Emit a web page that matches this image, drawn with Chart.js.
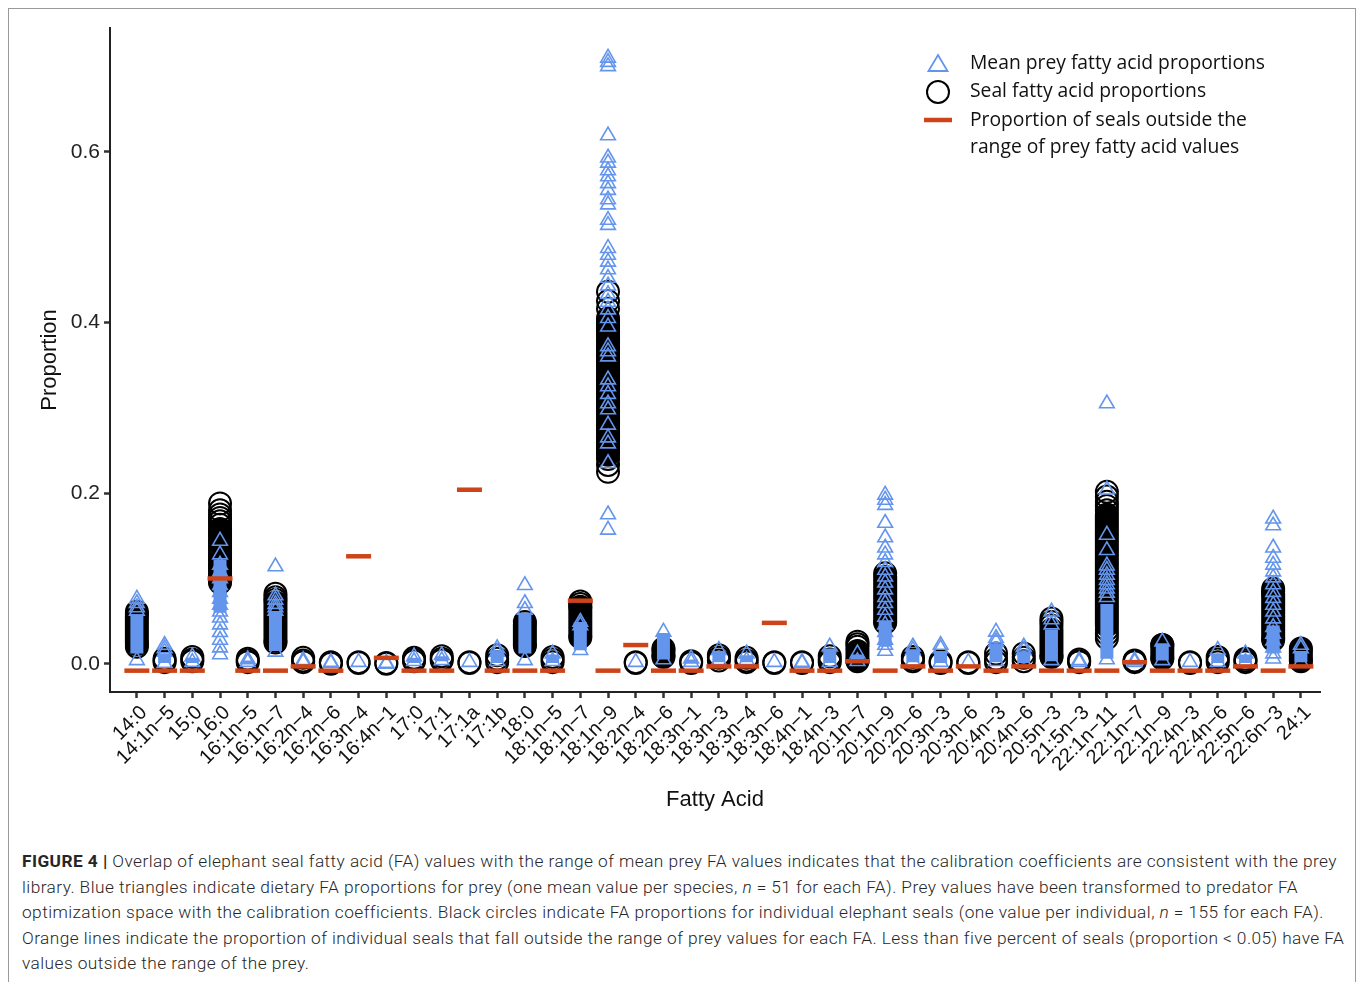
<!DOCTYPE html>
<html>
<head>
<meta charset="utf-8">
<script src="https://cdn.jsdelivr.net/npm/chart.js@4.4.1/dist/chart.umd.min.js"></script>
<style>
  html, body { margin: 0; padding: 0; background: #fff; }
  body { width: 1358px; height: 982px; position: relative; overflow: hidden; }
  #frame { position: absolute; left: 8px; top: 8px; width: 1346px; height: 1000px; border: 1px solid #9a9a9a; }
  #chart { position: absolute; left: 0; top: 0; }
  #caption {
    position: absolute; left: 22px; top: 849px;
    font-family: Roboto, "Liberation Sans", sans-serif; font-weight: 300;
    font-size: 17.3px; line-height: 25.5px; color: #262626; white-space: nowrap;
  }
  #caption span { display: block; }
  #caption b { font-weight: 700; }
</style>
</head>
<body>
<div id="frame"></div>
<canvas id="chart" width="1358" height="830"></canvas>
<div id="caption">
  <span id="cap1"><b>FIGURE 4 |</b> Overlap of elephant seal fatty acid (FA) values with the range of mean prey FA values indicates that the calibration coefficients are consistent with the prey</span>
  <span>library. Blue triangles indicate dietary FA proportions for prey (one mean value per species, <i>n</i> = 51 for each FA). Prey values have been transformed to predator FA</span>
  <span>optimization space with the calibration coefficients. Black circles indicate FA proportions for individual elephant seals (one value per individual, <i>n</i> = 155 for each FA).</span>
  <span>Orange lines indicate the proportion of individual seals that fall outside the range of prey values for each FA. Less than five percent of seals (proportion &lt; 0.05) have FA</span>
  <span>values outside the range of the prey.</span>
</div>
<script>
// fatty acids along the x axis
const fattyAcids = [
  '14:0', '14:1n−5', '15:0', '16:0', '16:1n−5', '16:1n−7', '16:2n−4', '16:2n−6', '16:3n−4', '16:4n−1',
  '17:0', '17:1', '17:1a', '17:1b', '18:0', '18:1n−5', '18:1n−7', '18:1n−9', '18:2n−4', '18:2n−6',
  '18:3n−1', '18:3n−3', '18:3n−4', '18:3n−6', '18:4n−1', '18:4n−3', '20:1n−7', '20:1n−9', '20:2n−6', '20:3n−3',
  '20:3n−6', '20:4n−3', '20:4n−6', '20:5n−3', '21:5n−3', '22:1n−11', '22:1n−7', '22:1n−9', '22:4n−3', '22:4n−6',
  '22:5n−6', '22:6n−3', '24:1'
];
const yTicks = [0, 0.2, 0.4, 0.6];

// mean prey values that stand apart (triangles), one list per FA
const preyValues = [
  [0.076, 0.071, 0.066, 0.062, 0.004], [0.022, 0.018, 0.014, 0.001], [0.0085, 0.002],
  [0.144, 0.128, 0.116, 0.108, 0.100, 0.092, 0.084, 0.076, 0.069, 0.061, 0.054, 0.046, 0.037, 0.028, 0.019, 0.011],
  [0.005, 0.002], [0.114, 0.080, 0.075, 0.070, 0.066, 0.062, 0.014], [0.004, 0.002], [0.002, 0.001], [0.002], [0.001, 0.000],
  [0.0085, 0.003], [0.010, 0.004], [0.002], [0.018, 0.014, 0.003], [0.092, 0.071, 0.063, 0.004], [0.012, 0.003],
  [0.049, 0.045, 0.016],
  [0.710, 0.705, 0.700, 0.619, 0.593, 0.587, 0.578, 0.571, 0.563, 0.555, 0.544, 0.538, 0.520, 0.514, 0.487, 0.479,
   0.471, 0.462, 0.452, 0.443, 0.433, 0.424, 0.415, 0.405, 0.395, 0.372, 0.366, 0.360, 0.333, 0.325, 0.316, 0.305,
   0.298, 0.280, 0.265, 0.258, 0.235, 0.175, 0.157],
  [0.002], [0.0375, 0.005], [0.006, 0.002], [0.016, 0.004], [0.012, 0.004], [0.002], [0.002, 0.001], [0.020, 0.002],
  [0.012, 0.003],
  [0.198, 0.192, 0.186, 0.165, 0.148, 0.136, 0.128, 0.119, 0.110, 0.102, 0.095, 0.087, 0.078, 0.071, 0.063, 0.055,
   0.046, 0.037, 0.028, 0.022, 0.015],
  [0.020, 0.016, 0.003], [0.022, 0.018, 0.002], [0.002], [0.0375, 0.030, 0.026, 0.003], [0.020, 0.016, 0.002],
  [0.061, 0.052, 0.046, 0.004], [0.004, 0.002],
  [0.305, 0.204, 0.151, 0.133, 0.115, 0.110, 0.104, 0.098, 0.093, 0.088, 0.083, 0.078, 0.005],
  [0.004, 0.002], [0.026, 0.004], [0.002], [0.016, 0.002], [0.012, 0.002],
  [0.170, 0.162, 0.136, 0.124, 0.116, 0.108, 0.101, 0.093, 0.084, 0.077, 0.069, 0.061, 0.053, 0.043, 0.035, 0.027,
   0.019, 0.012, 0.006],
  [0.022, 0.018, 0.002]
];
// range where prey triangles pile up into a solid band
const preyDense = [
  [0.012, 0.058], [0.001, 0.012], [0.001, 0.007], [0.060, 0.122], [0.001, 0.004], [0.015, 0.062], null, null, null, null,
  [0.001, 0.007], [0.003, 0.009], null, [0.001, 0.016], [0.012, 0.060], [0.001, 0.011], [0.016, 0.049], null, null, [0.005, 0.036],
  [0.001, 0.005], [0.002, 0.015], [0.002, 0.010], null, null, [0.001, 0.018], [0.002, 0.011], [0.020, 0.050], [0.002, 0.017], [0.001, 0.015],
  null, [0.002, 0.024], [0.001, 0.014], [0.003, 0.040], null, [0.006, 0.070], null, [0.004, 0.024], null, [0.001, 0.012],
  [0.001, 0.011], [0.012, 0.045], [0.002, 0.015]
];

// individual seal values that stand apart (circles)
const sealValues = [
  [0.061, 0.058, 0.023, 0.020], [0.002, 0.004, 0.006], [0.003, 0.005, 0.008],
  [0.188, 0.180, 0.175, 0.171, 0.167, 0.163, 0.095], [0.002, 0.004, 0.006], [0.082, 0.078, 0.075, 0.025],
  [0.002, 0.004, 0.007], [0.000, 0.001, 0.002], [0.001, 0.002], [0.000, 0.001],
  [0.003, 0.005, 0.007], [0.004, 0.006, 0.009], [0.001, 0.002], [0.002, 0.006, 0.010], [0.049, 0.021],
  [0.002, 0.005, 0.008], [0.073, 0.070, 0.067, 0.031], [0.436, 0.425, 0.416, 0.240, 0.233, 0.225],
  [0.001, 0.002], [0.018, 0.008], [0.001, 0.003], [0.004, 0.007, 0.010], [0.002, 0.004, 0.007],
  [0.001, 0.002], [0.001, 0.002], [0.002, 0.005, 0.009], [0.026, 0.023, 0.020, 0.003], [0.106, 0.048],
  [0.003, 0.005, 0.008], [0.001, 0.003], [0.001, 0.002], [0.002, 0.006, 0.012], [0.003, 0.007, 0.012],
  [0.053, 0.049, 0.045, 0.008], [0.002, 0.003, 0.005],
  [0.2015, 0.196, 0.190, 0.185, 0.180, 0.040, 0.035, 0.030],
  [0.002, 0.003, 0.004], [0.022, 0.006], [0.001, 0.002], [0.002, 0.005, 0.008], [0.002, 0.004, 0.006],
  [0.088, 0.085, 0.082, 0.028], [0.018, 0.003]
];
// range where seal circles overlap into a solid black column
const sealDense = [
  [0.025, 0.055], null, null, [0.097, 0.158], null, [0.027, 0.072], null, null, null, null,
  null, null, null, null, [0.023, 0.046], null, [0.033, 0.066], [0.245, 0.405], null, [0.010, 0.016],
  null, null, null, null, null, null, [0.004, 0.015], [0.050, 0.102], null, null,
  null, null, null, [0.009, 0.040], null, [0.045, 0.175], null, [0.007, 0.022], null, null,
  null, [0.030, 0.080], [0.004, 0.016]
];

// proportion of seals outside the prey range
const outsideProp = [
  -0.008, -0.008, -0.008, 0.100, -0.008, -0.008, -0.003, -0.008, 0.126, 0.007,
  -0.008, -0.008, 0.204, -0.008, -0.008, -0.008, 0.074, -0.008, 0.022, -0.008,
  -0.008, -0.003, -0.003, 0.048, -0.008, -0.008, 0.003, -0.008, -0.003, -0.008,
  -0.003, -0.008, -0.003, -0.008, -0.008, -0.008, 0.002, -0.008, -0.008, -0.008,
  -0.003, -0.008, -0.003
];

const BLUE = '#6495ED';
const ORANGE = '#CD4418';
const FONT = '"Liberation Sans", Arial, sans-serif';

const toPoints = lists => lists.flatMap((vals, i) => vals.map(v => ({ x: i + 1, y: v })));
const toBands = ranges => ranges.flatMap((r, i) =>
  r ? [{ x: i + 1, y: r[0] }, { x: i + 1, y: r[1] }, { x: i + 1, y: null }] : []);

Chart.defaults.font.family = FONT;
Chart.defaults.color = '#111';

// legend drawn inside the panel, top right, like the original figure
const figLegend = {
  id: 'figLegend',
  afterDraw(chart) {
    const { ctx, chartArea } = chart;
    const mx = chartArea.right - 382;
    const tx = chartArea.right - 350;
    const y0 = chartArea.top;
    ctx.save();
    ctx.strokeStyle = BLUE;
    ctx.lineWidth = 1.8;
    ctx.beginPath();
    ctx.moveTo(mx, y0 + 27);
    ctx.lineTo(mx + 9.5, y0 + 43);
    ctx.lineTo(mx - 9.5, y0 + 43);
    ctx.closePath();
    ctx.stroke();

    ctx.strokeStyle = '#000';
    ctx.lineWidth = 2;
    ctx.beginPath();
    ctx.arc(mx, y0 + 64, 11, 0, Math.PI * 2);
    ctx.stroke();

    ctx.strokeStyle = ORANGE;
    ctx.lineWidth = 4.5;
    ctx.beginPath();
    ctx.moveTo(mx - 14, y0 + 92);
    ctx.lineTo(mx + 14, y0 + 92);
    ctx.stroke();

    ctx.fillStyle = '#111';
    ctx.font = '19.3px "Open Sans", sans-serif';
    ctx.textBaseline = 'middle';
    ctx.fillText('Mean prey fatty acid proportions', tx, y0 + 36);
    ctx.fillText('Seal fatty acid proportions', tx, y0 + 64);
    ctx.fillText('Proportion of seals outside the', tx, y0 + 93);
    ctx.fillText('range of prey fatty acid values', tx, y0 + 120);
    ctx.restore();
  }
};

new Chart(document.getElementById('chart'), {
  type: 'scatter',
  data: {
    datasets: [
      {
        label: 'Proportion of seals outside the range of prey fatty acid values',
        data: outsideProp.map((v, i) => ({ x: i + 1, y: v })),
        pointStyle: 'line', pointRadius: 12.5, pointHoverRadius: 12.5,
        pointBorderColor: ORANGE, pointBorderWidth: 4.5,
        order: 0
      },
      {
        label: 'Mean prey fatty acid proportions',
        data: toPoints(preyValues),
        pointStyle: 'triangle', pointRadius: 8.5, pointHoverRadius: 8.5,
        pointBorderColor: BLUE, pointBackgroundColor: 'rgba(0,0,0,0)', pointBorderWidth: 1.6,
        order: 1
      },
      {
        type: 'line', label: 'prey dense',
        data: toBands(preyDense),
        borderColor: BLUE, borderWidth: 13, borderCapStyle: 'butt',
        pointRadius: 0, showLine: true, spanGaps: false,
        order: 2
      },
      {
        label: 'Seal fatty acid proportions',
        data: toPoints(sealValues),
        pointStyle: 'circle', pointRadius: 11, pointHoverRadius: 11,
        pointBorderColor: '#000', pointBackgroundColor: 'rgba(0,0,0,0)', pointBorderWidth: 2,
        order: 3
      },
      {
        type: 'line', label: 'seal dense',
        data: toBands(sealDense),
        borderColor: '#000', borderWidth: 24, borderCapStyle: 'round',
        pointRadius: 0, showLine: true, spanGaps: false,
        order: 4
      }
    ]
  },
  options: {
    responsive: false,
    animation: false,
    events: [],
    layout: { padding: { left: 0, right: 38, top: 28, bottom: 0 } },
    plugins: { legend: { display: false }, tooltip: { enabled: false } },
    scales: {
      x: {
        type: 'linear', min: 0.03, max: 43.69,
        afterBuildTicks: axis => { axis.ticks = fattyAcids.map((_, i) => ({ value: i + 1 })); },
        afterFit: axis => { axis.height = 138; },
        ticks: {
          autoSkip: false, minRotation: 45, maxRotation: 45, padding: 3, labelOffset: 7,
          color: '#111', font: { size: 20 },
          callback: v => fattyAcids[v - 1]
        },
        grid: { drawOnChartArea: false, drawTicks: true, tickLength: 6, tickWidth: 2.5, tickColor: '#333' },
        border: { display: true, color: '#222', width: 2 },
        title: { display: true, text: 'Fatty Acid', color: '#111', font: { size: 22 }, padding: { top: 0, bottom: 17 } }
      },
      y: {
        type: 'linear', min: -0.033, max: 0.745,
        afterBuildTicks: axis => { axis.ticks = yTicks.map(v => ({ value: v })); },
        afterFit: axis => { axis.width = 110; },
        ticks: { color: '#222', font: { size: 21 }, padding: 4, callback: v => v.toFixed(1) },
        grid: { drawOnChartArea: false, drawTicks: true, tickLength: 6, tickWidth: 2.5, tickColor: '#333' },
        border: { display: true, color: '#222', width: 2 },
        title: { display: true, text: 'Proportion', color: '#111', font: { size: 22 }, padding: { top: 37, bottom: 0 } }
      }
    }
  },
  plugins: [figLegend]
});

// stretch the caption letter spacing so the first line spans the figure width, as in the print layout
const cap = document.getElementById('caption');
const first = document.getElementById('cap1');
const range = document.createRange();
range.selectNodeContents(first);
const textW = range.getBoundingClientRect().width;
const chars = first.textContent.length;
cap.style.letterSpacing = ((1314 - textW) / chars).toFixed(3) + 'px';
</script>
</body>
</html>
